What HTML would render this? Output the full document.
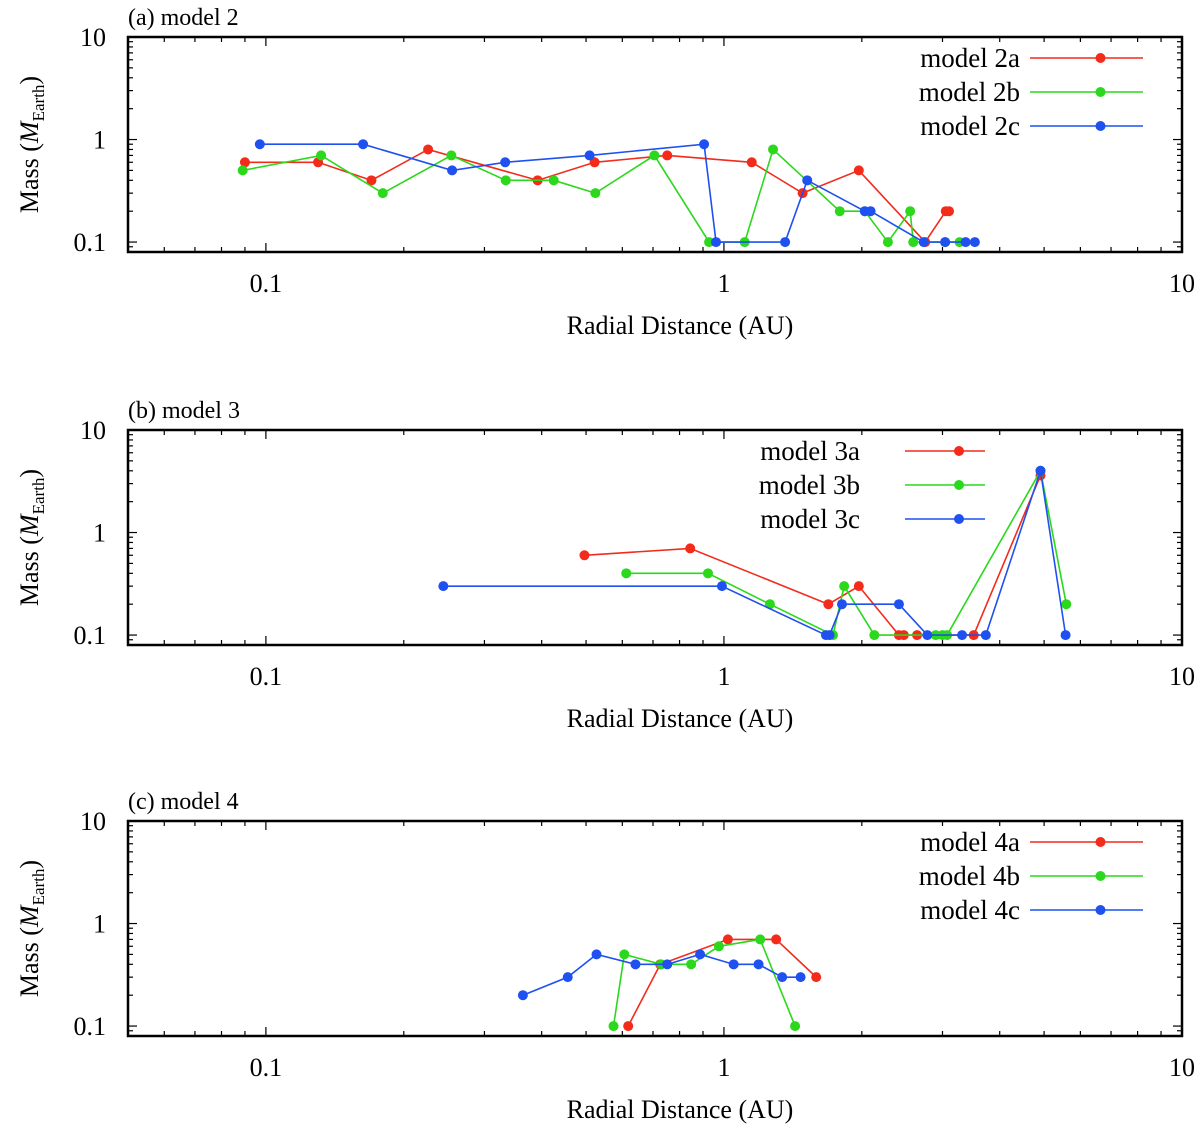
<!DOCTYPE html>
<html><head><meta charset="utf-8"><style>
body{margin:0;background:#fff;}
svg{display:block;font-family:"Liberation Serif",serif;}
</style></head><body>
<svg id="chart" width="1200" height="1128" viewBox="0 0 1200 1128"></svg>
<script>
const xTicks=[0.1,1,10];
const xTickLabels=["0.1","1","10"];
const yTicks=[0.1,1,10];
const yTickLabels=["0.1","1","10"];
const panelTitles=["(a) model 2","(b) model 3","(c) model 4"];
const seriesNames=[["model 2a","model 2b","model 2c"],["model 3a","model 3b","model 3c"],["model 4a","model 4b","model 4c"]];
const colors=["#f22b1b","#2bd81b","#1f50f0"];
// panel a
const a_red_x=[0.090,0.130,0.170,0.226,0.392,0.522,0.752,1.15,1.485,1.97,2.75,3.05,3.10];
const a_red_y=[0.6,0.6,0.4,0.8,0.4,0.6,0.7,0.6,0.3,0.5,0.1,0.2,0.2];
const a_green_x=[0.089,0.132,0.180,0.254,0.334,0.425,0.524,0.705,0.928,1.11,1.28,1.79,2.03,2.28,2.55,2.59,3.04,3.27];
const a_green_y=[0.5,0.7,0.3,0.7,0.4,0.4,0.3,0.7,0.1,0.1,0.8,0.2,0.2,0.1,0.2,0.1,0.1,0.1];
const a_blue_x=[0.097,0.163,0.255,0.333,0.509,0.905,0.961,1.36,1.52,2.03,2.09,2.73,3.04,3.37,3.53];
const a_blue_y=[0.9,0.9,0.5,0.6,0.7,0.9,0.1,0.1,0.4,0.2,0.2,0.1,0.1,0.1,0.1];
// panel b
const b_red_x=[0.496,0.844,1.69,1.97,2.41,2.47,2.64,3.51,4.91];
const b_red_y=[0.6,0.7,0.2,0.3,0.1,0.1,0.1,0.1,3.6];
const b_green_x=[0.612,0.923,1.26,1.73,1.83,2.13,2.90,3.00,3.07,4.91,5.59];
const b_green_y=[0.4,0.4,0.2,0.1,0.3,0.1,0.1,0.1,0.1,4.0,0.2];
const b_blue_x=[0.244,0.990,1.67,1.70,1.81,2.41,2.78,3.31,3.73,4.91,5.57];
const b_blue_y=[0.3,0.3,0.1,0.1,0.2,0.2,0.1,0.1,0.1,4.0,0.1];
// panel c
const c_red_x=[0.618,0.726,1.02,1.30,1.59];
const c_red_y=[0.1,0.4,0.7,0.7,0.3];
const c_green_x=[0.574,0.606,0.730,0.848,0.975,1.20,1.43];
const c_green_y=[0.1,0.5,0.4,0.4,0.6,0.7,0.1];
const c_blue_x=[0.364,0.456,0.527,0.641,0.752,0.887,1.05,1.19,1.34,1.47];
const c_blue_y=[0.2,0.3,0.5,0.4,0.4,0.5,0.4,0.4,0.3,0.3];

const panels=[
 {top:37,series:[[a_red_x,a_red_y],[a_green_x,a_green_y],[a_blue_x,a_blue_y]],legX:1020,legLine:[1030,1143]},
 {top:430,series:[[b_red_x,b_red_y],[b_green_x,b_green_y],[b_blue_x,b_blue_y]],legX:860,legLine:[905,985]},
 {top:821,series:[[c_red_x,c_red_y],[c_green_x,c_green_y],[c_blue_x,c_blue_y]],legX:1020,legLine:[1030,1143]}
];
const L=128,R=1182,H=215,XMIN=0.05,XMAX=10,YMIN=0.08,YMAX=10;
const NS="http://www.w3.org/2000/svg";
const svg=document.getElementById('chart');
function mk(tag,attrs,parent){const e=document.createElementNS(NS,tag);for(const k in attrs)e.setAttribute(k,attrs[k]);(parent||svg).appendChild(e);return e;}
function xs(v){return L+(Math.log10(v)-Math.log10(XMIN))/(Math.log10(XMAX)-Math.log10(XMIN))*(R-L);}
panels.forEach((p,pi)=>{
 const top=p.top,bot=top+H;
 function ys(v){return bot-(Math.log10(v)-Math.log10(YMIN))/(Math.log10(YMAX)-Math.log10(YMIN))*H;}
 const g=mk('g',{});
 
 
 // minor ticks
 for(let d=-2;d<=0;d++)for(let m=1;m<10;m++){const v=m*Math.pow(10,d);if(v<XMIN||v>XMAX)continue;const x=xs(v);const len=m===1?9:5;
  mk('line',{x1:x,x2:x,y1:bot,y2:bot-len,stroke:'#000','stroke-width':1.2},g);mk('line',{x1:x,x2:x,y1:top,y2:top+len,stroke:'#000','stroke-width':1.2},g);}
 for(let d=-2;d<=1;d++)for(let m=1;m<10;m++){const v=m*Math.pow(10,d);if(v<YMIN||v>YMAX)continue;const y=ys(v);const len=m===1?9:5;
  mk('line',{x1:L,x2:L+len,y1:y,y2:y,stroke:'#000','stroke-width':1.2},g);mk('line',{x1:R,x2:R-len,y1:y,y2:y,stroke:'#000','stroke-width':1.2},g);}
 const fr=mk('rect',{x:L,y:top,width:R-L,height:H,fill:'none',stroke:'#000','stroke-width':2.5},g);
 
 
 xTicks.forEach((v,i)=>{const t=mk('text',{x:xs(v),y:bot+40,'text-anchor':'middle','font-size':26},g);t.textContent=xTickLabels[i];
  
  });
 yTicks.forEach((v,i)=>{const t=mk('text',{x:106,y:ys(v)+9,'text-anchor':'end','font-size':26},g);t.textContent=yTickLabels[i];
  
  });
 const xt=mk('text',{x:680,y:bot+82,'text-anchor':'middle','font-size':26},g);xt.textContent='Radial Distance (AU)';
 
 
 const cy=(top+bot)/2;
 const yt=mk('text',{x:0,y:0,transform:`translate(38,${cy}) rotate(-90)`,'text-anchor':'middle','font-size':26},g);
 yt.innerHTML='Mass (<tspan font-style="italic">M</tspan><tspan font-size="17" dy="6">Earth</tspan><tspan dy="-6">)</tspan>';
 
 
 const tt=mk('text',{x:L,y:top-12,'font-size':24},g);tt.textContent=panelTitles[pi];
 
 
 p.series.forEach((s,si)=>{
  const sg=mk('g',{},g);
  
  
  const pts=s[0].map((x,i)=>xs(x)+','+ys(s[1][i])).join(' ');
  mk('polyline',{points:pts,fill:'none',stroke:colors[si],'stroke-width':1.6},sg);
  s[0].forEach((x,i)=>{const c=mk('circle',{cx:xs(x),cy:ys(s[1][i]),r:5,fill:colors[si]},sg);
   
   });
  const ly=top+21+si*34;
  const lt=mk('text',{x:p.legX,y:ly+9,'text-anchor':'end','font-size':27},sg);lt.textContent=seriesNames[pi][si];
  
  
  mk('line',{x1:p.legLine[0],x2:p.legLine[1],y1:ly,y2:ly,stroke:colors[si],'stroke-width':1.6},sg);
  mk('circle',{cx:(p.legLine[0]+p.legLine[1])/2+14,cy:ly,r:5,fill:colors[si]},sg);
 });
});
</script>
</body></html>
